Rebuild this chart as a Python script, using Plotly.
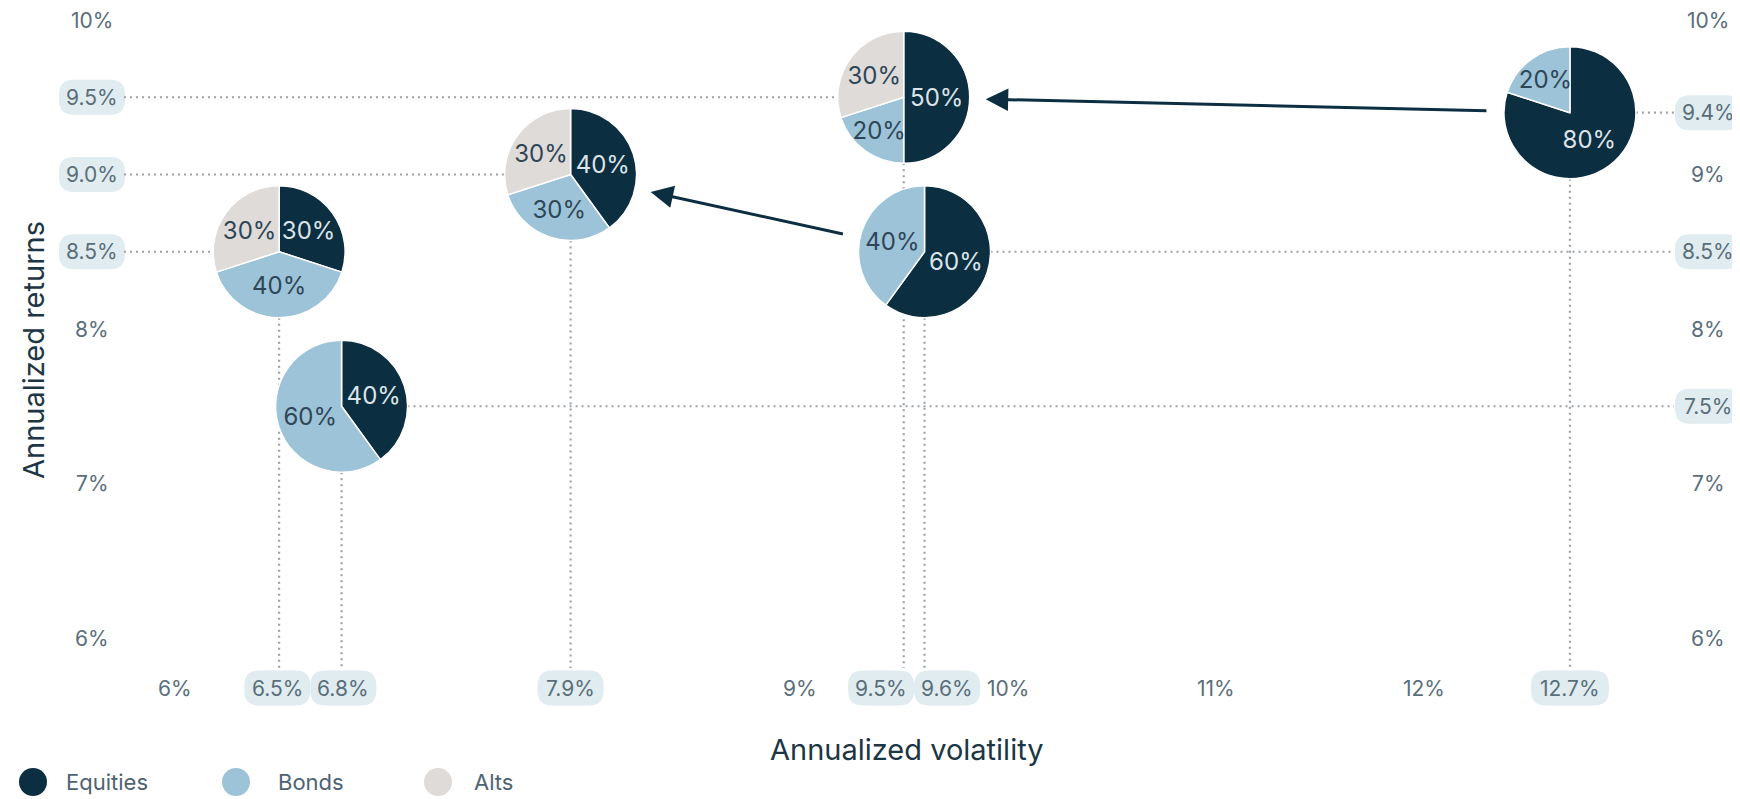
import plotly.graph_objects as go

# ---------------- data ----------------
asset_classes = ["Equities", "Bonds", "Alts"]
portfolio_vol = [6.8, 6.5, 9.6, 7.9, 12.7, 9.5]      # annualized volatility (%)
portfolio_ret = [7.5, 8.5, 8.5, 9.0, 9.4, 9.5]       # annualized returns (%)
equities_pct = [40, 30, 60, 40, 80, 50]
bonds_pct = [60, 40, 40, 30, 20, 20]
alts_pct = [0, 30, 0, 30, 0, 30]
guide_side = ["right", "left", "right", "left", "right", "left"]
arrow_from = [0, 2, 4]
arrow_to = [1, 3, 5]

x_ticks_plain = [6, 9, 10, 11, 12]
y_ticks_left_plain = [6, 7, 8, 10]
y_ticks_right_plain = [6, 7, 8, 9, 10]

# ---------------- style ----------------
COL_EQ, COL_BD, COL_AL = "#0B2E41", "#9DC3D8", "#DFDBD9"
asset_colors = [COL_EQ, COL_BD, COL_AL]
TXT_ON_DARK, TXT_ON_LIGHT = "#DDE4E8", "#2E4656"
TICK_COL = "#5A6E7A"
TITLE_COL = "#1C3646"
GUIDE_COL = "#9CA3A8"
BADGE_COL = "#E0ECEF"
FONT = "Inter, Roboto, sans-serif"

OFF = 8                                   # page body margin
W, H = 1740 - OFF, 799 - OFF
# screen-pixel targets, converted to figure pixels
L, R, T, B = 124 - OFF, 1674 - OFF, 10 - OFF, 668 - OFF
X6_PX, X_PER = 175 - OFF, 208.2
Y10_PX, Y_PER = 20 - OFF, 154.5
PIE_R = 66
ARROW_GAP = 82

x_min = 6 + (L - X6_PX) / X_PER
x_max = 6 + (R - X6_PX) / X_PER
y_max = 10 + (Y10_PX - T) / Y_PER
y_min = 10 - (B - Y10_PX) / Y_PER
PW, PH = R - L, B - T


def px(x):
    return L + (x - x_min) / (x_max - x_min) * PW


def py(y):
    return B - (y - y_min) / (y_max - y_min) * PH


def inv_px(p):
    return x_min + (p - L) / PW * (x_max - x_min)


def inv_py(p):
    return y_min + (B - p) / PH * (y_max - y_min)


def rr_path(x0, x1, y0, y1, r):
    return (f"M{x0 + r},{y0} L{x1 - r},{y0} Q{x1},{y0} {x1},{y0 + r} "
            f"L{x1},{y1 - r} Q{x1},{y1} {x1 - r},{y1} L{x0 + r},{y1} "
            f"Q{x0},{y1} {x0},{y1 - r} L{x0},{y0 + r} Q{x0},{y0} {x0 + r},{y0} Z")


fig = go.Figure()

# ---------------- guide lines ----------------
gx, gy = [], []
for v, r, side in zip(portfolio_vol, portfolio_ret, guide_side):
    if side == "left":
        gx += [x_min, v, None]
    else:
        gx += [v, x_max, None]
    gy += [r, r, None]
    gx += [v, v, None]
    gy += [r, y_min, None]
fig.add_trace(go.Scatter(x=gx, y=gy, mode="lines",
                         line=dict(color=GUIDE_COL, width=2.2, dash="2px,4px"),
                         hoverinfo="skip", showlegend=False))

# ---------------- pies ----------------
PIE_FONT_SIZE = 24
rx, ry = PIE_R / PW, PIE_R / PH
for i, (v, r) in enumerate(zip(portfolio_vol, portfolio_ret)):
    vals = [equities_pct[i], bonds_pct[i], alts_pct[i]]
    labs, vv, cols, tcols = [], [], [], []
    for lab, val, col in zip(asset_classes, vals, asset_colors):
        if val > 0:
            labs.append(lab)
            vv.append(val)
            cols.append(col)
            tcols.append(TXT_ON_DARK if col == COL_EQ else TXT_ON_LIGHT)
    fx = (v - x_min) / (x_max - x_min)
    fy = (r - y_min) / (y_max - y_min)
    fig.add_trace(go.Pie(
        labels=labs, values=vv, sort=False, direction="clockwise", rotation=0,
        marker=dict(colors=cols, line=dict(color="white", width=1.5)),
        texttemplate="%{value}%", textposition="inside",
        insidetextorientation="horizontal",
        insidetextfont=dict(color=tcols, size=PIE_FONT_SIZE, family=FONT),
        domain=dict(x=[fx - rx, fx + rx], y=[fy - ry, fy + ry]),
        hoverinfo="skip", showlegend=False))

annotations = []
shapes = []

# ---------------- arrows ----------------
for a, b in zip(arrow_from, arrow_to):
    sx, sy = px(portfolio_vol[a]), py(portfolio_ret[a])
    tx, ty = px(portfolio_vol[b]), py(portfolio_ret[b])
    dx, dy = tx - sx, ty - sy
    d = (dx ** 2 + dy ** 2) ** 0.5
    ux, uy = dx / d, dy / d
    annotations.append(dict(
        x=inv_px(tx - ux * ARROW_GAP), y=inv_py(ty - uy * ARROW_GAP),
        ax=inv_px(sx + ux * ARROW_GAP), ay=inv_py(sy + uy * ARROW_GAP),
        xref="x", yref="y", axref="x", ayref="y", text="",
        showarrow=True, arrowhead=2, arrowsize=1.5, arrowwidth=3,
        arrowcolor=COL_EQ, standoff=0, startstandoff=0))

# ---------------- tick labels ----------------
TICK_FONT = dict(family=FONT, size=21, color=TICK_COL)
BADGE_H, BADGE_RAD = 35, 15
X_LABEL_DY = 20
Y_LEFT_DX = 92 - 124
Y_RIGHT_DX = 1708 - 1674


def badge_w(text):
    return 12 * len(text) + 18


# x axis
x_high = sorted(set(portfolio_vol))
x_shift = {v: 0 for v in x_high}
MIN_SEP = 66
for v1, v2 in zip(x_high[:-1], x_high[1:]):
    gap = px(v2) - px(v1)
    if gap < MIN_SEP:
        x_shift[v1] -= (MIN_SEP - gap) / 2
        x_shift[v2] += (MIN_SEP - gap) / 2
for v in x_ticks_plain:
    annotations.append(dict(x=v, y=0, xref="x", yref="paper", yshift=-X_LABEL_DY,
                            text=f"{v:g}%", showarrow=False, font=TICK_FONT,
                            xanchor="center", yanchor="middle"))
for v in x_high:
    t = f"{v:.1f}%"
    w = badge_w(t)
    s = x_shift[v]
    shapes.append(dict(type="path", xref="x", yref="paper", xsizemode="pixel",
                       ysizemode="pixel", xanchor=v, yanchor=0,
                       path=rr_path(s - w / 2, s + w / 2, -X_LABEL_DY - BADGE_H / 2,
                                    -X_LABEL_DY + BADGE_H / 2, BADGE_RAD),
                       fillcolor=BADGE_COL, line=dict(width=0), layer="below"))
    annotations.append(dict(x=v, y=0, xref="x", yref="paper", yshift=-X_LABEL_DY,
                            xshift=s, text=t, showarrow=False, font=TICK_FONT,
                            xanchor="center", yanchor="middle"))

# y axes (left and right)
y_left_high = [r for r, sd in zip(portfolio_ret, guide_side) if sd == "left"]
y_right_high = [r for r, sd in zip(portfolio_ret, guide_side) if sd == "right"]
for plain, high, xa, dx in [(y_ticks_left_plain, y_left_high, 0, Y_LEFT_DX),
                            (y_ticks_right_plain, y_right_high, 1, Y_RIGHT_DX)]:
    for v in plain:
        annotations.append(dict(x=xa, y=v, xref="paper", yref="y", xshift=dx,
                                text=f"{v:g}%", showarrow=False, font=TICK_FONT,
                                xanchor="center", yanchor="middle"))
    for v in sorted(set(high)):
        t = f"{v:.1f}%"
        w = badge_w(t)
        shapes.append(dict(type="path", xref="paper", yref="y", xsizemode="pixel",
                           ysizemode="pixel", xanchor=xa, yanchor=v,
                           path=rr_path(dx - w / 2, dx + w / 2, -BADGE_H / 2,
                                        BADGE_H / 2, BADGE_RAD),
                           fillcolor=BADGE_COL, line=dict(width=0), layer="below"))
        annotations.append(dict(x=xa, y=v, xref="paper", yref="y", xshift=dx,
                                text=t, showarrow=False, font=TICK_FONT,
                                xanchor="center", yanchor="middle"))

# ---------------- axis titles ----------------
TITLE_FONT = dict(family=FONT, size=29, color=TITLE_COL)
annotations.append(dict(x=0.5, y=0, xref="paper", yref="paper",
                        yshift=-(749 - 668), xshift=(907 - OFF) - (L + PW / 2),
                        text="Annualized volatility", showarrow=False, font=TITLE_FONT,
                        xanchor="center", yanchor="middle"))
annotations.append(dict(x=0, y=0.5, xref="paper", yref="paper", xshift=33 - 124,
                        yshift=(T + PH / 2) - (350 - OFF), text="Annualized returns",
                        textangle=-90, showarrow=False, font=TITLE_FONT,
                        xanchor="center", yanchor="middle"))

# ---------------- legend ----------------
LEG_X = [33, 236, 438]        # circle centres (screen px)
LEG_TX = [64, 276, 472]       # text left edges (screen px)
LEG_Y = 782
LEG_R = 14
fyp = (B - (LEG_Y - OFF)) / PH
for lab, col, lx, tx in zip(asset_classes, asset_colors, LEG_X, LEG_TX):
    fxp = ((lx - OFF) - L) / PW
    shapes.append(dict(type="circle", xref="paper", yref="paper", xsizemode="pixel",
                       ysizemode="pixel", xanchor=fxp, yanchor=fyp,
                       x0=-LEG_R, x1=LEG_R, y0=-LEG_R, y1=LEG_R,
                       fillcolor=col, line=dict(width=0)))
    annotations.append(dict(x=((tx - OFF) - L) / PW, y=fyp, xref="paper", yref="paper",
                            text=lab, showarrow=False,
                            font=dict(family=FONT, size=22, color="#4E6371"),
                            xanchor="left", yanchor="middle"))

fig.update_layout(
    width=W, height=H,
    margin=dict(l=L, r=W - R, t=T, b=H - B, autoexpand=False),
    paper_bgcolor="white", plot_bgcolor="white",
    showlegend=False,
    uniformtext=dict(minsize=PIE_FONT_SIZE, mode="show"),
    xaxis=dict(range=[x_min, x_max], visible=False, fixedrange=True),
    yaxis=dict(range=[y_min, y_max], visible=False, fixedrange=True),
    annotations=annotations, shapes=shapes,
)

fig.write_html("out.html")
